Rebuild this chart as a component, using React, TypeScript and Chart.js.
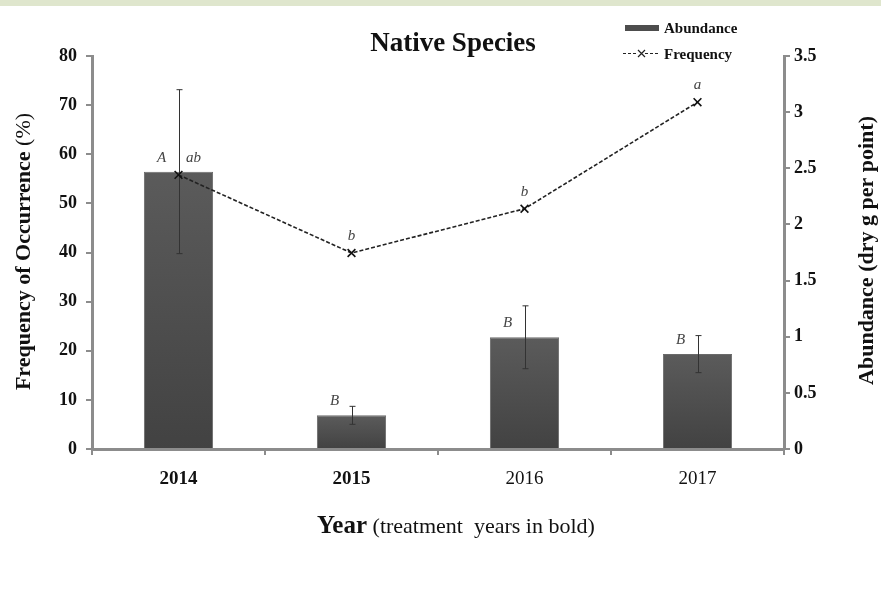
import { useEffect, useRef } from 'react';
import { Chart, registerables } from 'chart.js';

Chart.register(...registerables);

const years = ['2014', '2015', '2016', '2017'];
const treatmentYears = [true, true, false, false];
const abundance = [2.47, 0.3, 0.995, 0.845];
const abundanceErr = [0.73, 0.08, 0.28, 0.165];
const frequency = [55.8, 39.9, 48.9, 70.6];
const abundanceLetters = ['A', 'B', 'B', 'B'];
const frequencyLetters = ['ab', 'b', 'b', 'a'];
const freqRange = [0, 80, 10];
const abundRange = [0, 3.5, 0.5];

const SERIF = '"Liberation Serif", "Times New Roman", serif';
const AXIS = '#8c8c8c';

const decor = {
  id: 'decor',
  beforeDraw(chart: any) {
    const { ctx, width, height } = chart;
    ctx.save();
    ctx.fillStyle = '#ffffff';
    ctx.fillRect(0, 0, width, height);
    ctx.fillStyle = '#dfe6cd';
    ctx.fillRect(0, 0, width, 6);
    ctx.restore();
  },
  afterDatasetDraw(chart: any, args: any) {
    if (args.index !== 0) return;
    const { ctx } = chart;
    const y1 = chart.scales.y1;
    const meta = chart.getDatasetMeta(0);
    ctx.save();
    ctx.strokeStyle = '#333';
    ctx.lineWidth = 1;
    meta.data.forEach((el: any, i: number) => {
      const x = Math.round(el.x) + 0.5;
      const top = y1.getPixelForValue(abundance[i] + abundanceErr[i]);
      const bot = y1.getPixelForValue(abundance[i] - abundanceErr[i]);
      ctx.beginPath();
      ctx.moveTo(x, top);
      ctx.lineTo(x, bot);
      ctx.moveTo(x - 3, top);
      ctx.lineTo(x + 3, top);
      ctx.moveTo(x - 3, bot);
      ctx.lineTo(x + 3, bot);
      ctx.stroke();
    });
    ctx.restore();
  },
  afterDraw(chart: any) {
    const { ctx, chartArea: area } = chart;
    const cx = (area.left + area.right) / 2;
    const y1 = chart.scales.y1;
    ctx.save();
    ctx.fillStyle = '#111';

    // Title
    ctx.font = `bold 27px ${SERIF}`;
    ctx.textAlign = 'center';
    ctx.textBaseline = 'alphabetic';
    ctx.fillText('Native Species', cx + 15, 51);

    // Legend
    const lx = area.right - 159;
    ctx.fillStyle = '#4d4d4d';
    ctx.fillRect(lx, 25, 34, 6);
    ctx.fillStyle = '#111';
    ctx.font = `bold 15px ${SERIF}`;
    ctx.textAlign = 'left';
    ctx.fillText('Abundance', lx + 39, 33);
    ctx.strokeStyle = '#222';
    ctx.lineWidth = 1.2;
    ctx.setLineDash([3, 2]);
    ctx.beginPath();
    ctx.moveTo(lx - 2, 53.5);
    ctx.lineTo(lx + 13, 53.5);
    ctx.moveTo(lx + 20, 53.5);
    ctx.lineTo(lx + 35, 53.5);
    ctx.stroke();
    ctx.setLineDash([]);
    ctx.beginPath();
    const mx = lx + 16.5;
    ctx.moveTo(mx - 3.5, 50);
    ctx.lineTo(mx + 3.5, 57);
    ctx.moveTo(mx + 3.5, 50);
    ctx.lineTo(mx - 3.5, 57);
    ctx.stroke();
    ctx.fillText('Frequency', lx + 39, 58.5);

    // Left axis title
    ctx.save();
    ctx.translate(30, (area.top + area.bottom) / 2 - 1);
    ctx.rotate(-Math.PI / 2);
    const boldPart = 'Frequency of Occurrence ';
    const normPart = '(%)';
    ctx.font = `bold 22px ${SERIF}`;
    const w1 = ctx.measureText(boldPart).width;
    ctx.font = `22px ${SERIF}`;
    const w2 = ctx.measureText(normPart).width;
    const start = -(w1 + w2) / 2;
    ctx.textAlign = 'left';
    ctx.font = `bold 22px ${SERIF}`;
    ctx.fillText(boldPart, start, 0);
    ctx.font = `22px ${SERIF}`;
    ctx.fillText(normPart, start + w1, 0);
    ctx.restore();

    // Right axis title
    ctx.save();
    ctx.translate(area.right + 89, (area.top + area.bottom) / 2 - 2);
    ctx.rotate(-Math.PI / 2);
    ctx.textAlign = 'center';
    ctx.font = `bold 22px ${SERIF}`;
    ctx.fillText('Abundance (dry g per point)', 0, 0);
    ctx.restore();

    // X axis title
    const xb = 'Year';
    const xn = ' (treatment  years in bold)';
    ctx.font = `bold 25px ${SERIF}`;
    const xw1 = ctx.measureText(xb).width;
    ctx.font = `22px ${SERIF}`;
    const xw2 = ctx.measureText(xn).width;
    const xs = cx + 18 - (xw1 + xw2) / 2;
    ctx.textAlign = 'left';
    ctx.font = `bold 25px ${SERIF}`;
    ctx.fillText(xb, xs, 533);
    ctx.font = `22px ${SERIF}`;
    ctx.fillText(xn, xs + xw1, 533);

    // Significance letters
    ctx.fillStyle = '#444';
    ctx.font = `italic 15px ${SERIF}`;
    ctx.textAlign = 'center';
    ctx.textBaseline = 'middle';
    const barMeta = chart.getDatasetMeta(0);
    barMeta.data.forEach((el: any, i: number) => {
      ctx.fillText(abundanceLetters[i], el.x - 17, el.y - 14);
    });
    const lineMeta = chart.getDatasetMeta(1);
    lineMeta.data.forEach((el: any, i: number) => {
      const errTop = y1.getPixelForValue(abundance[i] + abundanceErr[i]);
      const shift = errTop < el.y - 5 ? 15 : 0;
      ctx.fillText(frequencyLetters[i], el.x + shift, el.y - 17);
    });
    ctx.restore();
  },
};

export default function App() {
  const canvasRef = useRef<HTMLCanvasElement | null>(null);

  useEffect(() => {
    if (!canvasRef.current) return;
    const gridCommon = {
      display: true,
      drawOnChartArea: false,
      drawTicks: true,
      tickLength: 6,
      color: AXIS,
      lineWidth: 2,
    };
    const chart = new Chart(canvasRef.current, {
      type: 'bar',
      data: {
        labels: years,
        datasets: [
          {
            type: 'bar',
            label: 'Abundance',
            data: abundance,
            yAxisID: 'y1',
            order: 2,
            barPercentage: 0.8,
            categoryPercentage: 0.5,
            borderColor: '#6a6a6a',
            borderWidth: 1,
            backgroundColor: (c: any) => {
              const ch = c.chart;
              const area = ch.chartArea;
              if (!area || c.raw == null) return '#4d4d4d';
              const top = ch.scales.y1.getPixelForValue(c.raw);
              const g = ch.ctx.createLinearGradient(0, top, 0, area.bottom);
              g.addColorStop(0, '#5b5b5b');
              g.addColorStop(1, '#424242');
              return g;
            },
          },
          {
            type: 'line',
            label: 'Frequency',
            data: frequency,
            yAxisID: 'y',
            order: 1,
            borderColor: '#222',
            borderWidth: 1.6,
            borderDash: [4, 2],
            pointStyle: 'crossRot',
            pointRadius: 5.5,
            pointBorderWidth: 1.6,
            pointBorderColor: '#111',
            pointBackgroundColor: '#111',
            fill: false,
            tension: 0,
          },
        ],
      } as any,
      options: {
        animation: false,
        responsive: true,
        maintainAspectRatio: false,
        layout: { padding: { top: 56, left: 0, right: 0, bottom: 0 } },
        plugins: {
          legend: { display: false },
          title: { display: false },
          tooltip: { enabled: false },
        },
        scales: {
          x: {
            type: 'category',
            offset: true,
            grid: { ...gridCommon, offset: true },
            border: { display: true, color: AXIS, width: 3 },
            ticks: {
              color: '#111',
              padding: 13,
              font: (c: any) => ({
                family: SERIF,
                size: 19,
                weight: treatmentYears[c.index] ? 'bold' : 'normal',
              }),
            },
            afterFit: (s: any) => {
              s.height = 144;
            },
          },
          y: {
            position: 'left',
            min: freqRange[0],
            max: freqRange[1],
            grid: gridCommon,
            border: { display: true, color: AXIS, width: 3 },
            ticks: {
              stepSize: freqRange[2],
              color: '#111',
              padding: 9,
              font: { family: SERIF, size: 18, weight: 'bold' },
            },
            afterFit: (s: any) => {
              s.width = 92;
            },
          },
          y1: {
            position: 'right',
            min: abundRange[0],
            max: abundRange[1],
            grid: gridCommon,
            border: { display: true, color: AXIS, width: 3 },
            ticks: {
              stepSize: abundRange[2],
              color: '#111',
              padding: 4,
              font: { family: SERIF, size: 18, weight: 'bold' },
              callback: (v: any) => String(Math.round(Number(v) * 10) / 10),
            },
            afterFit: (s: any) => {
              s.width = 97;
            },
          },
        },
      } as any,
      plugins: [decor],
    });
    return () => chart.destroy();
  }, []);

  return (
    <div style={{ position: 'fixed', left: 0, top: 0, width: 881, height: 593, background: '#fff' }}>
      <canvas ref={canvasRef} />
    </div>
  );
}
